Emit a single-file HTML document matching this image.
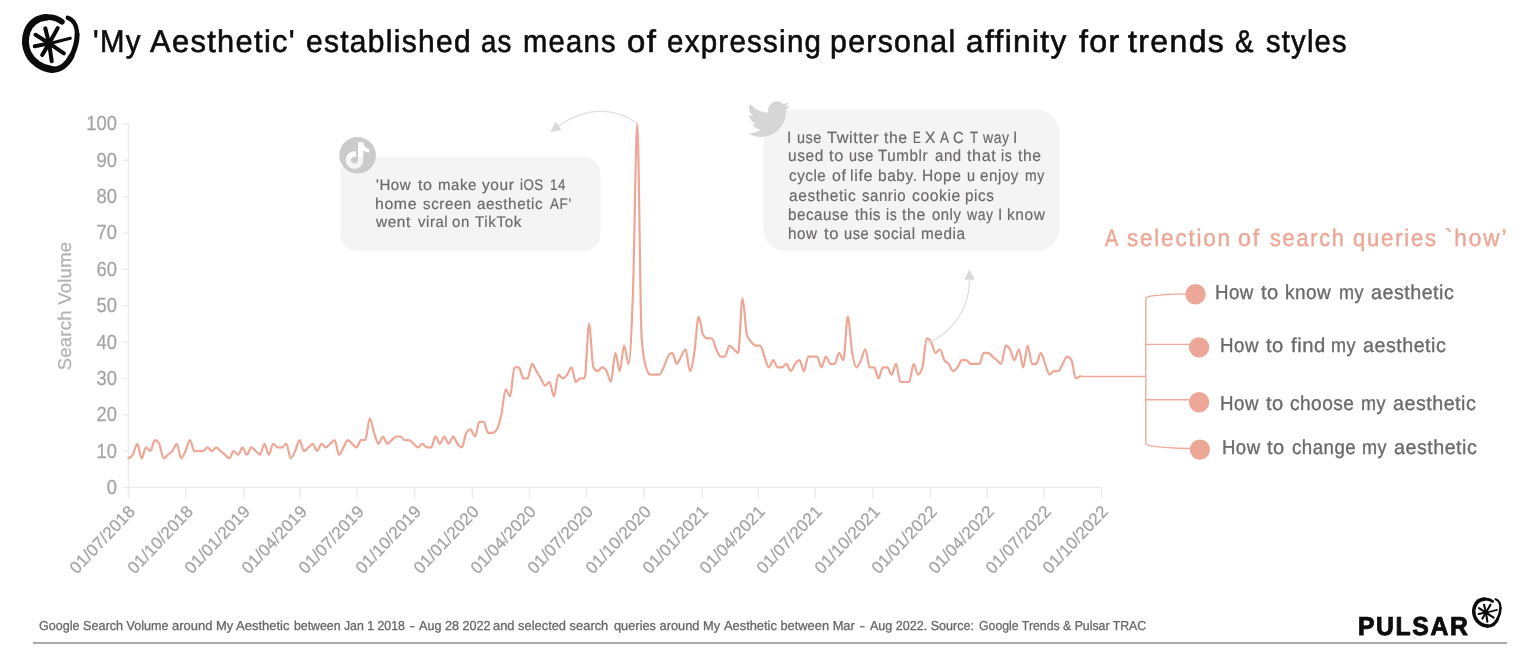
<!DOCTYPE html>
<html lang="en">
<head>
<meta charset="utf-8">
<title>'My Aesthetic' established as means of expressing personal affinity for trends &amp; styles</title>
<style>
  html, body { margin: 0; padding: 0; background: #ffffff; }
  body { width: 1536px; height: 671px; overflow: hidden; position: relative;
         font-family: "Liberation Sans", sans-serif; text-rendering: geometricPrecision; }
  .abs { position: absolute; white-space: nowrap; line-height: 1; transform-origin: 0 50%; }
  .tt { color: #0d0d0d; -webkit-text-stroke: 0.6px #0d0d0d; }
  .ylab { font-size: 20.4px; color: #a4a4a4; -webkit-text-stroke: 0.25px #a4a4a4; text-align: right; width: 60px; left: 56.7px; transform-origin: 100% 50%; transform: scaleX(0.9); }
  #ytitle { transform-origin: 50% 50%; font-size: 18.5px; color: #b2b2b2; -webkit-text-stroke: 0.25px #b2b2b2; left: 64.6px; top: 305.5px; transform: translate(-50%,-50%) rotate(-90deg); letter-spacing: 0.25px; }
  .xlab { font-size: 17px; color: #a4a4a4; -webkit-text-stroke: 0.25px #a4a4a4; transform-origin: 100% 50%; transform: rotate(-46.5deg); text-align: right; width: 100px; letter-spacing: 0.1px; }
  .ln { margin: 0; padding: 0; }
  .ln span { display: block; }
  .bt { color: #6c6969; -webkit-text-stroke: 0.2px #6c6969; }
  .qh { color: #eda797; -webkit-text-stroke: 0.45px #eda797; }
  .q { color: #6c6969; -webkit-text-stroke: 0.35px #6c6969; }
  .ft { color: #696666; -webkit-text-stroke: 0.3px #696666; }
  #rule { position: absolute; left: 33.2px; top: 642.1px; width: 1473.5px; height: 1.8px; background: #ababab; }
  .pl { font-weight: bold; color: #0d0d0d; -webkit-text-stroke: 0.9px #0d0d0d; }
  svg { position: absolute; left: 0; top: 0; }
</style>
</head>
<body>
<svg id="chart" width="1536" height="671" viewBox="0 0 1536 671">
  <!-- bubbles -->
  <rect x="340.5" y="157" width="259.9" height="94" rx="16" ry="16" fill="#f4f4f4"/>
  <rect x="763.5" y="109.5" width="295.6" height="141.6" rx="22" ry="22" fill="#f4f4f4"/>
  <!-- axes -->
  <g stroke="#ebebeb" stroke-width="1.4" fill="none">
    <path d="M128.5,123.9V498.4"/>
    <path d="M122.5,487.4H1101.6"/>
    <path d="M122.5,451.05H128.5M122.5,414.70H128.5M122.5,378.35H128.5M122.5,342.00H128.5M122.5,305.65H128.5M122.5,269.30H128.5M122.5,232.95H128.5M122.5,196.60H128.5M122.5,160.25H128.5M122.5,123.90H128.5"/>
    <path d="M128.50,487.4V498.4M186.14,487.4V498.4M243.79,487.4V498.4M300.18,487.4V498.4M357.20,487.4V498.4M414.84,487.4V498.4M472.49,487.4V498.4M529.51,487.4V498.4M586.52,487.4V498.4M644.17,487.4V498.4M701.81,487.4V498.4M758.20,487.4V498.4M815.22,487.4V498.4M872.87,487.4V498.4M930.51,487.4V498.4M986.90,487.4V498.4M1043.92,487.4V498.4M1101.57,487.4V498.4"/>
  </g>
  <!-- connector -->
  <g stroke="#eda999" stroke-width="1.35" fill="none">
    <path d="M1079.9,376.5H1145.8"/>
    <path d="M1186,293.9 C1172,294.1 1158,295 1150.3,296.2 C1147.6,296.7 1146,297.3 1145.8,298.6 V443.4 C1146,444.7 1147.6,445.3 1150.3,445.8 C1158,447 1172,448.2 1190,448.5"/>
    <path d="M1145.8,344.4H1190M1145.8,399.7H1190"/>
  </g>
  <g fill="#eca798">
    <circle cx="1195.5" cy="294.2" r="10.2"/>
    <circle cx="1199.1" cy="347.4" r="10.2"/>
    <circle cx="1199.1" cy="402.3" r="10.2"/>
    <circle cx="1199.9" cy="449.6" r="10.2"/>
  </g>
  <!-- data line -->
  <path d="M128.50,458.32C129.96,457.71,131.42,457.11,132.89,454.69C134.35,452.26,135.81,443.78,137.27,443.78C138.73,443.78,140.20,458.32,141.66,458.32C143.12,458.32,144.58,447.41,146.04,447.41C147.51,447.41,148.97,451.05,150.43,451.05C151.89,451.05,153.35,440.14,154.82,440.14C156.28,440.14,157.74,441.36,159.20,443.78C160.66,446.20,162.13,458.32,163.59,458.32C165.05,458.32,166.51,455.90,167.97,454.69C169.44,453.47,170.90,452.87,172.36,451.05C173.82,449.23,175.28,443.78,176.75,443.78C178.21,443.78,179.67,458.32,181.13,458.32C182.59,458.32,184.06,454.08,185.52,451.05C186.98,448.02,188.44,440.14,189.90,440.14C191.37,440.14,192.83,451.05,194.29,451.05C195.75,451.05,197.21,451.05,198.68,451.05C200.14,451.05,201.60,451.05,203.06,451.05C204.52,451.05,205.99,447.41,207.45,447.41C208.91,447.41,210.37,451.05,211.83,451.05C213.30,451.05,214.76,447.41,216.22,447.41C217.68,447.41,219.14,449.84,220.61,451.05C222.07,452.26,223.53,453.47,224.99,454.69C226.45,455.90,227.92,458.32,229.38,458.32C230.84,458.32,232.30,451.05,233.76,451.05C235.23,451.05,236.69,454.69,238.15,454.69C239.61,454.69,241.07,447.41,242.54,447.41C244.00,447.41,245.46,454.69,246.92,454.69C248.38,454.69,249.85,447.41,251.31,447.41C252.77,447.41,254.23,449.84,255.69,451.05C257.16,452.26,258.62,454.69,260.08,454.69C261.54,454.69,263.00,443.78,264.47,443.78C265.93,443.78,267.39,454.69,268.85,454.69C270.31,454.69,271.78,443.78,273.24,443.78C274.70,443.78,276.16,447.41,277.62,447.41C279.09,447.41,280.55,447.41,282.01,447.41C283.47,447.41,284.93,443.78,286.40,443.78C287.86,443.78,289.32,458.32,290.78,458.32C292.24,458.32,293.71,454.08,295.17,451.05C296.63,448.02,298.09,440.14,299.55,440.14C301.02,440.14,302.48,451.05,303.94,451.05C305.40,451.05,306.86,448.63,308.33,447.41C309.79,446.20,311.25,443.78,312.71,443.78C314.17,443.78,315.64,451.05,317.10,451.05C318.56,451.05,320.02,443.78,321.48,443.78C322.95,443.78,324.41,447.41,325.87,447.41C327.33,447.41,328.79,444.99,330.26,443.78C331.72,442.57,333.18,440.14,334.64,440.14C336.10,440.14,337.57,454.69,339.03,454.69C340.49,454.69,341.95,449.84,343.41,447.41C344.88,444.99,346.34,440.14,347.80,440.14C349.26,440.14,350.72,442.57,352.19,443.78C353.65,444.99,355.11,447.41,356.57,447.41C358.03,447.41,359.50,440.14,360.96,440.14C362.42,440.14,363.88,440.14,365.34,440.14C366.81,440.14,368.27,418.33,369.73,418.33C371.19,418.33,372.65,428.63,374.12,432.88C375.58,437.12,377.04,443.78,378.50,443.78C379.96,443.78,381.43,436.51,382.89,436.51C384.35,436.51,385.81,443.78,387.27,443.78C388.74,443.78,390.20,441.36,391.66,440.14C393.12,438.93,394.58,436.51,396.05,436.51C397.51,436.51,398.97,436.51,400.43,436.51C401.89,436.51,403.36,440.14,404.82,440.14C406.28,440.14,407.74,440.14,409.20,440.14C410.67,440.14,412.13,442.57,413.59,443.78C415.05,444.99,416.51,447.41,417.98,447.41C419.44,447.41,420.90,443.78,422.36,443.78C423.82,443.78,425.29,447.41,426.75,447.41C428.21,447.41,429.67,447.41,431.13,447.41C432.60,447.41,434.06,436.51,435.52,436.51C436.98,436.51,438.44,443.78,439.91,443.78C441.37,443.78,442.83,436.51,444.29,436.51C445.75,436.51,447.22,443.78,448.68,443.78C450.14,443.78,451.60,436.51,453.06,436.51C454.53,436.51,455.99,441.96,457.45,443.78C458.91,445.60,460.37,447.41,461.84,447.41C463.30,447.41,464.76,435.30,466.22,432.88C467.68,430.45,469.15,429.24,470.61,429.24C472.07,429.24,473.53,436.51,474.99,436.51C476.46,436.51,477.92,421.97,479.38,421.97C480.84,421.97,482.30,421.97,483.77,421.97C485.23,421.97,486.69,432.88,488.15,432.88C489.61,432.88,491.08,432.88,492.54,432.88C494.00,432.88,495.46,431.66,496.92,429.24C498.39,426.82,499.85,421.36,501.31,414.70C502.77,408.04,504.23,389.25,505.70,389.25C507.16,389.25,508.62,396.52,510.08,396.52C511.54,396.52,513.01,367.44,514.47,367.44C515.93,367.44,517.39,367.44,518.85,367.44C520.32,367.44,521.78,378.35,523.24,378.35C524.70,378.35,526.16,378.35,527.63,378.35C529.09,378.35,530.55,363.81,532.01,363.81C533.47,363.81,534.94,368.66,536.40,371.08C537.86,373.50,539.32,375.93,540.78,378.35C542.25,380.77,543.71,385.62,545.17,385.62C546.63,385.62,548.09,381.99,549.56,381.99C551.02,381.99,552.48,396.52,553.94,396.52C555.40,396.52,556.87,374.71,558.33,374.71C559.79,374.71,561.25,378.35,562.71,378.35C564.18,378.35,565.64,376.53,567.10,374.71C568.56,372.90,570.02,367.44,571.49,367.44C572.95,367.44,574.41,381.99,575.87,381.99C577.33,381.99,578.80,378.35,580.26,378.35C581.72,378.35,583.18,378.35,584.64,378.35C586.11,378.35,587.57,323.82,589.03,323.82C590.49,323.82,591.95,365.02,593.42,367.44C594.88,369.87,596.34,371.08,597.80,371.08C599.26,371.08,600.73,367.44,602.19,367.44C603.65,367.44,605.11,368.66,606.57,371.08C608.04,373.50,609.50,381.99,610.96,381.99C612.42,381.99,613.88,352.90,615.35,352.90C616.81,352.90,618.27,371.08,619.73,371.08C621.19,371.08,622.66,345.63,624.12,345.63C625.58,345.63,627.04,363.81,628.50,363.81C629.97,363.81,631.43,334.73,632.89,294.75C634.35,254.76,635.81,123.90,637.28,123.90C638.74,123.90,640.20,318.98,641.66,338.37C643.12,357.75,644.59,362.60,646.05,367.44C647.51,372.29,648.97,374.71,650.43,374.71C651.90,374.71,653.36,374.71,654.82,374.71C656.28,374.71,657.74,374.71,659.21,374.71C660.67,374.71,662.13,370.47,663.59,367.44C665.05,364.42,666.52,358.96,667.98,356.54C669.44,354.12,670.90,352.90,672.36,352.90C673.83,352.90,675.29,363.81,676.75,363.81C678.21,363.81,679.67,358.96,681.14,356.54C682.60,354.12,684.06,349.27,685.52,349.27C686.98,349.27,688.45,371.08,689.91,371.08C691.37,371.08,692.83,361.99,694.29,352.90C695.76,343.82,697.22,316.55,698.68,316.55C700.14,316.55,701.60,332.31,703.07,334.73C704.53,337.15,705.99,338.37,707.45,338.37C708.91,338.37,710.38,338.37,711.84,338.37C713.30,338.37,714.76,346.24,716.22,349.27C717.69,352.30,719.15,356.54,720.61,356.54C722.07,356.54,723.53,356.54,725.00,356.54C726.46,356.54,727.92,345.63,729.38,345.63C730.84,345.63,732.31,348.06,733.77,349.27C735.23,350.48,736.69,352.90,738.15,352.90C739.62,352.90,741.08,298.38,742.54,298.38C744.00,298.38,745.46,329.88,746.93,334.73C748.39,339.58,749.85,340.18,751.31,342.00C752.77,343.82,754.24,345.63,755.70,345.63C757.16,345.63,758.62,345.63,760.08,345.63C761.55,345.63,763.01,352.90,764.47,356.54C765.93,360.17,767.39,367.44,768.86,367.44C770.32,367.44,771.78,360.17,773.24,360.17C774.70,360.17,776.17,367.44,777.63,367.44C779.09,367.44,780.55,367.44,782.01,367.44C783.48,367.44,784.94,363.81,786.40,363.81C787.86,363.81,789.32,371.08,790.79,371.08C792.25,371.08,793.71,365.63,795.17,363.81C796.63,361.99,798.10,360.17,799.56,360.17C801.02,360.17,802.48,371.08,803.94,371.08C805.41,371.08,806.87,356.54,808.33,356.54C809.79,356.54,811.25,356.54,812.72,356.54C814.18,356.54,815.64,356.54,817.10,356.54C818.56,356.54,820.03,367.44,821.49,367.44C822.95,367.44,824.41,356.54,825.87,356.54C827.34,356.54,828.80,363.81,830.26,363.81C831.72,363.81,833.18,363.81,834.65,363.81C836.11,363.81,837.57,352.90,839.03,352.90C840.49,352.90,841.96,360.17,843.42,360.17C844.88,360.17,846.34,316.55,847.80,316.55C849.27,316.55,850.73,344.42,852.19,352.90C853.65,361.39,855.11,367.44,856.58,367.44C858.04,367.44,859.50,363.20,860.96,360.17C862.42,357.15,863.89,349.27,865.35,349.27C866.81,349.27,868.27,367.44,869.73,367.44C871.20,367.44,872.66,367.44,874.12,367.44C875.58,367.44,877.04,378.35,878.51,378.35C879.97,378.35,881.43,367.44,882.89,367.44C884.35,367.44,885.82,367.44,887.28,367.44C888.74,367.44,890.20,374.71,891.66,374.71C893.13,374.71,894.59,363.81,896.05,363.81C897.51,363.81,898.97,381.99,900.44,381.99C901.90,381.99,903.36,381.99,904.82,381.99C906.28,381.99,907.75,381.99,909.21,381.99C910.67,381.99,912.13,363.81,913.59,363.81C915.06,363.81,916.52,374.71,917.98,374.71C919.44,374.71,920.90,372.29,922.37,367.44C923.83,362.60,925.29,338.37,926.75,338.37C928.21,338.37,929.68,339.58,931.14,342.00C932.60,344.42,934.06,352.90,935.52,352.90C936.99,352.90,938.45,349.27,939.91,349.27C941.37,349.27,942.83,357.75,944.30,360.17C945.76,362.60,947.22,361.99,948.68,363.81C950.14,365.63,951.61,371.08,953.07,371.08C954.53,371.08,955.99,369.26,957.45,367.44C958.92,365.63,960.38,360.17,961.84,360.17C963.30,360.17,964.76,360.17,966.23,360.17C967.69,360.17,969.15,363.81,970.61,363.81C972.07,363.81,973.54,363.81,975.00,363.81C976.46,363.81,977.92,363.81,979.38,363.81C980.85,363.81,982.31,352.90,983.77,352.90C985.23,352.90,986.69,352.90,988.16,352.90C989.62,352.90,991.08,355.33,992.54,356.54C994.00,357.75,995.47,358.96,996.93,360.17C998.39,361.39,999.85,363.81,1001.31,363.81C1002.78,363.81,1004.24,345.63,1005.70,345.63C1007.16,345.63,1008.62,346.85,1010.09,349.27C1011.55,351.69,1013.01,360.17,1014.47,360.17C1015.93,360.17,1017.40,349.27,1018.86,349.27C1020.32,349.27,1021.78,367.44,1023.24,367.44C1024.71,367.44,1026.17,345.63,1027.63,345.63C1029.09,345.63,1030.55,363.81,1032.02,363.81C1033.48,363.81,1034.94,363.81,1036.40,363.81C1037.86,363.81,1039.33,352.90,1040.79,352.90C1042.25,352.90,1043.71,360.18,1045.17,363.81C1046.64,367.44,1048.10,374.71,1049.56,374.71C1051.02,374.71,1052.48,371.08,1053.95,371.08C1055.41,371.08,1056.87,371.08,1058.33,371.08C1059.79,371.08,1061.26,366.23,1062.72,363.81C1064.18,361.39,1065.64,356.54,1067.10,356.54C1068.57,356.54,1070.03,357.75,1071.49,360.17C1072.95,362.60,1074.41,378.35,1075.88,378.35C1077.34,378.35,1078.80,377.26,1080.26,376.17" fill="none" stroke="#eca797" stroke-width="2.2" stroke-linejoin="round" stroke-linecap="round"/>
  <!-- arrows -->
  <path d="M636.9,123 C617.2,109.2 589.2,103.9 558.3,126.1" fill="none" stroke="#dedede" stroke-width="1.2"/>
  <path d="M555.4,121.8 L561.5,130.1 L550.4,131.9 Z" fill="#d9d9d9"/>
  <path d="M924.6,344.2 C951,335 969.3,310 969.5,280" fill="none" stroke="#dedede" stroke-width="1.2"/>
  <path d="M969.5,269.2 L964.2,279.8 L974.6,279.8 Z" fill="#d9d9d9"/>
  <!-- tiktok icon -->
  <path transform="translate(-0.5,-0.5)" fill="#cbcbcb" fill-rule="evenodd" d="M339.8,155.8 a18.3,18.3 0 1,0 36.6,0 a18.3,18.3 0 1,0 -36.6,0 Z M358.5,142.7 H363.8 C364.1,146.3 366.5,149 369.7,149.4 V152.9 C367.5,152.9 365.5,152.2 363.8,151 V160.6 A8.8,8.8 0 1 1 356.6,151.95 V157.5 A3.5,3.5 0 1 0 358.5,160.6 Z"/>
  <g transform="translate(747.6,97.8) rotate(-2 20 20) scale(1.79)">
    <path d="M23.953 4.57a10 10 0 01-2.825.775 4.958 4.958 0 002.163-2.723c-.951.555-2.005.959-3.127 1.184a4.92 4.92 0 00-8.384 4.482C7.69 8.095 4.067 6.13 1.64 3.162a4.822 4.822 0 00-.666 2.475c0 1.71.87 3.213 2.188 4.096a4.904 4.904 0 01-2.228-.616v.06a4.923 4.923 0 003.946 4.827 4.996 4.996 0 01-2.212.085 4.936 4.936 0 004.604 3.417 9.867 9.867 0 01-6.102 2.105c-.39 0-.779-.023-1.17-.067a13.995 13.995 0 007.557 2.209c9.053 0 13.998-7.496 13.998-13.985 0-.21 0-.42-.015-.63A9.935 9.935 0 0024 4.59z" fill="#d6d6d6"/>
  </g>
  <g transform="translate(10,5) scale(0.1192)"><g fill="none" stroke="#0b0b0b" stroke-linecap="round" stroke-linejoin="round">
      <path d="M300,104 C230,108 168,152 144,222 C122,282 126,350 153,408 C188,476 262,530 350,541" stroke-width="58"/>
      <path d="M435,140 C395,108 345,100 300,102" stroke-width="48"/>
      <path d="M350,543 C420,546 480,500 515,430" stroke-width="50"/>
      <path d="M515,430 C545,370 564,300 563,245" stroke-width="42"/>
      <path d="M563,245 C561,180 537,126 484,107" stroke-width="36"/>
      <g stroke-width="34">
        <path d="M328,322 L296,196"/>
        <path d="M328,322 L400,194"/>
        <path d="M328,322 L214,250"/>
        <path d="M328,322 L208,346"/>
        <path d="M328,322 L270,420"/>
        <path d="M328,322 L350,472"/>
        <path d="M328,322 L452,406"/>
      </g>
      <path d="M325,325 L506,279" stroke-width="26"/>
      <circle cx="328" cy="322" r="36" fill="#0b0b0b" stroke="none"/>
    </g></g>
  <g transform="translate(1465.8,592.7) scale(0.0616)"><g fill="none" stroke="#0b0b0b" stroke-linecap="round" stroke-linejoin="round">
      <path d="M300,104 C230,108 168,152 144,222 C122,282 126,350 153,408 C188,476 262,530 350,541" stroke-width="58"/>
      <path d="M435,140 C395,108 345,100 300,102" stroke-width="48"/>
      <path d="M350,543 C420,546 480,500 515,430" stroke-width="50"/>
      <path d="M515,430 C545,370 564,300 563,245" stroke-width="42"/>
      <path d="M563,245 C561,180 537,126 484,107" stroke-width="36"/>
      <g stroke-width="34">
        <path d="M328,322 L296,196"/>
        <path d="M328,322 L400,194"/>
        <path d="M328,322 L214,250"/>
        <path d="M328,322 L208,346"/>
        <path d="M328,322 L270,420"/>
        <path d="M328,322 L350,472"/>
        <path d="M328,322 L452,406"/>
      </g>
      <path d="M325,325 L506,279" stroke-width="26"/>
      <circle cx="328" cy="322" r="36" fill="#0b0b0b" stroke="none"/>
    </g></g>
</svg>

<div class="ln">
<span id="w0_0" class="abs tt" style="left:92.94px; top:26.30px; font-size:31.4px; transform:scaleX(0.9370);letter-spacing:1.35px;">'My</span>
<span id="w0_1" class="abs tt" style="left:149.95px; top:26.30px; font-size:31.4px; transform:scaleX(0.9828);letter-spacing:1.35px;">Aesthetic'</span>
<span id="w0_2" class="abs tt" style="left:306.30px; top:26.30px; font-size:31.4px; transform:scaleX(0.9551);letter-spacing:1.35px;">established</span>
<span id="w0_3" class="abs tt" style="left:481.03px; top:26.30px; font-size:31.4px; transform:scaleX(0.8800);letter-spacing:1.35px;">as</span>
<span id="w0_4" class="abs tt" style="left:522.78px; top:26.30px; font-size:31.4px; transform:scaleX(0.9286);letter-spacing:1.35px;">means</span>
<span id="w0_5" class="abs tt" style="left:626.93px; top:26.30px; font-size:31.4px; transform:scaleX(1.0506);letter-spacing:1.35px;">of</span>
<span id="w0_6" class="abs tt" style="left:666.54px; top:26.30px; font-size:31.4px; transform:scaleX(0.9393);letter-spacing:1.35px;">expressing</span>
<span id="w0_7" class="abs tt" style="left:830.38px; top:26.30px; font-size:31.4px; transform:scaleX(0.9638);letter-spacing:1.35px;">personal</span>
<span id="w0_8" class="abs tt" style="left:965.54px; top:26.30px; font-size:31.4px; transform:scaleX(1.0064);letter-spacing:1.35px;">affinity</span>
<span id="w0_9" class="abs tt" style="left:1078.53px; top:26.30px; font-size:31.4px; transform:scaleX(1.0254);letter-spacing:1.35px;">for</span>
<span id="w0_10" class="abs tt" style="left:1128.06px; top:26.30px; font-size:31.4px; transform:scaleX(1.0192);letter-spacing:1.35px;">trends</span>
<span id="w0_11" class="abs tt" style="left:1234.78px; top:26.30px; font-size:31.4px; transform:scaleX(0.8830);letter-spacing:1.35px;">&amp;</span>
<span id="w0_12" class="abs tt" style="left:1265.85px; top:26.30px; font-size:31.4px; transform:scaleX(0.9263);letter-spacing:1.35px;">styles</span>
</div>
<div class="ln">
<span id="w1_0" class="abs bt" style="left:375.72px; top:177.70px; font-size:15.4px; transform:scaleX(0.9734);letter-spacing:0.6px;">'How</span>
<span id="w1_1" class="abs bt" style="left:418.28px; top:177.70px; font-size:15.4px; transform:scaleX(1.0450);letter-spacing:0.6px;">to</span>
<span id="w1_2" class="abs bt" style="left:438.27px; top:177.70px; font-size:15.4px; transform:scaleX(0.9737);letter-spacing:0.6px;">make</span>
<span id="w1_3" class="abs bt" style="left:481.59px; top:177.70px; font-size:15.4px; transform:scaleX(1.0061);letter-spacing:0.6px;">your</span>
<span id="w1_4" class="abs bt" style="left:519.57px; top:177.70px; font-size:15.4px; transform:scaleX(0.8650);letter-spacing:0.6px;">iOS</span>
<span id="w1_5" class="abs bt" style="left:549.80px; top:177.70px; font-size:15.4px; transform:scaleX(0.8650);letter-spacing:0.6px;">14</span>
</div>
<div class="ln">
<span id="w2_0" class="abs bt" style="left:375.02px; top:196.50px; font-size:15.4px; transform:scaleX(1.0302);letter-spacing:0.6px;">home</span>
<span id="w2_1" class="abs bt" style="left:422.96px; top:196.50px; font-size:15.4px; transform:scaleX(0.9813);letter-spacing:0.6px;">screen</span>
<span id="w2_2" class="abs bt" style="left:477.23px; top:196.50px; font-size:15.4px; transform:scaleX(0.9871);letter-spacing:0.6px;">aesthetic</span>
<span id="w2_3" class="abs bt" style="left:550.06px; top:196.50px; font-size:15.4px; transform:scaleX(0.8821);letter-spacing:0.6px;">AF'</span>
</div>
<div class="ln">
<span id="w3_0" class="abs bt" style="left:375.78px; top:215.20px; font-size:15.4px; transform:scaleX(0.9998);letter-spacing:0.6px;">went</span>
<span id="w3_1" class="abs bt" style="left:417.61px; top:215.20px; font-size:15.4px; transform:scaleX(0.9681);letter-spacing:0.6px;">viral</span>
<span id="w3_2" class="abs bt" style="left:452.11px; top:215.20px; font-size:15.4px; transform:scaleX(0.9719);letter-spacing:0.6px;">on</span>
<span id="w3_3" class="abs bt" style="left:475.39px; top:215.20px; font-size:15.4px; transform:scaleX(0.9874);letter-spacing:0.6px;">TikTok</span>
</div>
<div class="ln">
<span id="w4_0" class="abs bt" style="left:787.29px; top:129.50px; font-size:16.2px; transform:scaleX(0.9550);letter-spacing:0.6px;">I</span>
<span id="w4_1" class="abs bt" style="left:797.06px; top:129.50px; font-size:16.2px; transform:scaleX(0.8894);letter-spacing:0.6px;">use</span>
<span id="w4_2" class="abs bt" style="left:826.73px; top:129.50px; font-size:16.2px; transform:scaleX(1.0083);letter-spacing:0.6px;">Twitter</span>
<span id="w4_3" class="abs bt" style="left:884.39px; top:129.50px; font-size:16.2px; transform:scaleX(0.9753);letter-spacing:0.6px;">the</span>
<span id="w4_4" class="abs bt" style="left:913.24px; top:129.50px; font-size:16.2px; transform:scaleX(0.7150);letter-spacing:0.6px;">E</span>
<span id="w4_5" class="abs bt" style="left:925.46px; top:129.50px; font-size:16.2px; transform:scaleX(0.9566);letter-spacing:0.6px;">X</span>
<span id="w4_6" class="abs bt" style="left:939.92px; top:129.50px; font-size:16.2px; transform:scaleX(0.8389);letter-spacing:0.6px;">A</span>
<span id="w4_7" class="abs bt" style="left:953.34px; top:129.50px; font-size:16.2px; transform:scaleX(0.9117);letter-spacing:0.6px;">C</span>
<span id="w4_8" class="abs bt" style="left:970.13px; top:129.50px; font-size:16.2px; transform:scaleX(0.8154);letter-spacing:0.6px;">T</span>
<span id="w4_9" class="abs bt" style="left:983.06px; top:129.50px; font-size:16.2px; transform:scaleX(0.8650);letter-spacing:0.6px;">way</span>
<span id="w4_10" class="abs bt" style="left:1013.49px; top:129.50px; font-size:16.2px; transform:scaleX(0.9550);letter-spacing:0.6px;">I</span>
</div>
<div class="ln">
<span id="w5_0" class="abs bt" style="left:788.41px; top:148.40px; font-size:16.2px; transform:scaleX(0.9565);letter-spacing:0.6px;">used</span>
<span id="w5_1" class="abs bt" style="left:828.78px; top:148.40px; font-size:16.2px; transform:scaleX(1.0188);letter-spacing:0.6px;">to</span>
<span id="w5_2" class="abs bt" style="left:848.66px; top:148.40px; font-size:16.2px; transform:scaleX(0.8894);letter-spacing:0.6px;">use</span>
<span id="w5_3" class="abs bt" style="left:878.39px; top:148.40px; font-size:16.2px; transform:scaleX(0.9376);letter-spacing:0.6px;">Tumblr</span>
<span id="w5_4" class="abs bt" style="left:935.26px; top:148.40px; font-size:16.2px; transform:scaleX(0.9251);letter-spacing:0.6px;">and</span>
<span id="w5_5" class="abs bt" style="left:966.96px; top:148.40px; font-size:16.2px; transform:scaleX(0.9993);letter-spacing:0.6px;">that</span>
<span id="w5_6" class="abs bt" style="left:1001.36px; top:148.40px; font-size:16.2px; transform:scaleX(0.8650);letter-spacing:0.6px;">is</span>
<span id="w5_7" class="abs bt" style="left:1017.58px; top:148.40px; font-size:16.2px; transform:scaleX(0.9700);letter-spacing:0.6px;">the</span>
</div>
<div class="ln">
<span id="w6_0" class="abs bt" style="left:788.84px; top:167.60px; font-size:16.2px; transform:scaleX(0.9361);letter-spacing:0.6px;">cycle</span>
<span id="w6_1" class="abs bt" style="left:831.60px; top:167.60px; font-size:16.2px; transform:scaleX(0.9829);letter-spacing:0.6px;">of</span>
<span id="w6_2" class="abs bt" style="left:850.17px; top:167.60px; font-size:16.2px; transform:scaleX(1.0004);letter-spacing:0.6px;">life</span>
<span id="w6_3" class="abs bt" style="left:878.24px; top:167.60px; font-size:16.2px; transform:scaleX(0.9539);letter-spacing:0.6px;">baby.</span>
<span id="w6_4" class="abs bt" style="left:921.80px; top:167.60px; font-size:16.2px; transform:scaleX(0.9589);letter-spacing:0.6px;">Hope</span>
<span id="w6_5" class="abs bt" style="left:966.60px; top:167.60px; font-size:16.2px; transform:scaleX(0.8941);letter-spacing:0.6px;">u</span>
<span id="w6_6" class="abs bt" style="left:980.43px; top:167.60px; font-size:16.2px; transform:scaleX(0.9354);letter-spacing:0.6px;">enjoy</span>
<span id="w6_7" class="abs bt" style="left:1025.37px; top:167.60px; font-size:16.2px; transform:scaleX(0.8650);letter-spacing:0.6px;">my</span>
</div>
<div class="ln">
<span id="w7_0" class="abs bt" style="left:788.81px; top:187.60px; font-size:16.2px; transform:scaleX(0.9574);letter-spacing:0.6px;">aesthetic</span>
<span id="w7_1" class="abs bt" style="left:861.66px; top:187.60px; font-size:16.2px; transform:scaleX(0.9269);letter-spacing:0.6px;">sanrio</span>
<span id="w7_2" class="abs bt" style="left:911.78px; top:187.60px; font-size:16.2px; transform:scaleX(0.9696);letter-spacing:0.6px;">cookie</span>
<span id="w7_3" class="abs bt" style="left:965.24px; top:187.60px; font-size:16.2px; transform:scaleX(0.9447);letter-spacing:0.6px;">pics</span>
</div>
<div class="ln">
<span id="w8_0" class="abs bt" style="left:788.34px; top:206.60px; font-size:16.2px; transform:scaleX(0.9341);letter-spacing:0.6px;">because</span>
<span id="w8_1" class="abs bt" style="left:855.21px; top:206.60px; font-size:16.2px; transform:scaleX(0.9455);letter-spacing:0.6px;">this</span>
<span id="w8_2" class="abs bt" style="left:885.53px; top:206.60px; font-size:16.2px; transform:scaleX(0.8650);letter-spacing:0.6px;">is</span>
<span id="w8_3" class="abs bt" style="left:902.19px; top:206.60px; font-size:16.2px; transform:scaleX(0.9790);letter-spacing:0.6px;">the</span>
<span id="w8_4" class="abs bt" style="left:931.52px; top:206.60px; font-size:16.2px; transform:scaleX(0.9166);letter-spacing:0.6px;">only</span>
<span id="w8_5" class="abs bt" style="left:966.56px; top:206.60px; font-size:16.2px; transform:scaleX(0.8650);letter-spacing:0.6px;">way</span>
<span id="w8_6" class="abs bt" style="left:997.59px; top:206.60px; font-size:16.2px; transform:scaleX(0.9550);letter-spacing:0.6px;">I</span>
<span id="w8_7" class="abs bt" style="left:1007.30px; top:206.60px; font-size:16.2px; transform:scaleX(0.9548);letter-spacing:0.6px;">know</span>
</div>
<div class="ln">
<span id="w9_0" class="abs bt" style="left:788.00px; top:225.60px; font-size:16.2px; transform:scaleX(0.9361);letter-spacing:0.6px;">how</span>
<span id="w9_1" class="abs bt" style="left:823.77px; top:225.60px; font-size:16.2px; transform:scaleX(1.0264);letter-spacing:0.6px;">to</span>
<span id="w9_2" class="abs bt" style="left:843.93px; top:225.60px; font-size:16.2px; transform:scaleX(0.9038);letter-spacing:0.6px;">use</span>
<span id="w9_3" class="abs bt" style="left:874.27px; top:225.60px; font-size:16.2px; transform:scaleX(0.9254);letter-spacing:0.6px;">social</span>
<span id="w9_4" class="abs bt" style="left:920.80px; top:225.60px; font-size:16.2px; transform:scaleX(0.9481);letter-spacing:0.6px;">media</span>
</div>
<div class="ln">
<span id="w10_0" class="abs qh" style="left:1104.90px; top:226.90px; font-size:24px; transform:scaleX(0.8278);letter-spacing:1.95px;">A</span>
<span id="w10_1" class="abs qh" style="left:1126.91px; top:226.90px; font-size:24px; transform:scaleX(0.9341);letter-spacing:1.95px;">selection</span>
<span id="w10_2" class="abs qh" style="left:1238.39px; top:226.90px; font-size:24px; transform:scaleX(0.9719);letter-spacing:1.95px;">of</span>
<span id="w10_3" class="abs qh" style="left:1269.77px; top:226.90px; font-size:24px; transform:scaleX(0.9035);letter-spacing:1.95px;">search</span>
<span id="w10_4" class="abs qh" style="left:1352.88px; top:226.90px; font-size:24px; transform:scaleX(0.9183);letter-spacing:1.95px;">queries</span>
<span id="w10_5" class="abs qh" style="left:1444.58px; top:226.90px; font-size:24px; transform:scaleX(0.9428);letter-spacing:1.95px;">`how’</span>
</div>
<div class="ln">
<span id="w11_0" class="abs q" style="left:1215.43px; top:282.90px; font-size:20px; transform:scaleX(0.9358);letter-spacing:0.5px;">How</span>
<span id="w11_1" class="abs q" style="left:1260.93px; top:282.90px; font-size:20px; transform:scaleX(1.0061);letter-spacing:0.5px;">to</span>
<span id="w11_2" class="abs q" style="left:1285.09px; top:282.90px; font-size:20px; transform:scaleX(0.9510);letter-spacing:0.5px;">know</span>
<span id="w11_3" class="abs q" style="left:1338.56px; top:282.90px; font-size:20px; transform:scaleX(0.9024);letter-spacing:0.5px;">my</span>
<span id="w11_4" class="abs q" style="left:1370.80px; top:282.90px; font-size:20px; transform:scaleX(0.9845);letter-spacing:0.5px;">aesthetic</span>
</div>
<div class="ln">
<span id="w12_0" class="abs q" style="left:1219.84px; top:336.10px; font-size:20px; transform:scaleX(0.9364);letter-spacing:0.5px;">How</span>
<span id="w12_1" class="abs q" style="left:1265.73px; top:336.10px; font-size:20px; transform:scaleX(1.0061);letter-spacing:0.5px;">to</span>
<span id="w12_2" class="abs q" style="left:1290.55px; top:336.10px; font-size:20px; transform:scaleX(1.0117);letter-spacing:0.5px;">find</span>
<span id="w12_3" class="abs q" style="left:1331.16px; top:336.10px; font-size:20px; transform:scaleX(0.9024);letter-spacing:0.5px;">my</span>
<span id="w12_4" class="abs q" style="left:1363.20px; top:336.10px; font-size:20px; transform:scaleX(0.9845);letter-spacing:0.5px;">aesthetic</span>
</div>
<div class="ln">
<span id="w13_0" class="abs q" style="left:1219.84px; top:394.20px; font-size:20px; transform:scaleX(0.9364);letter-spacing:0.5px;">How</span>
<span id="w13_1" class="abs q" style="left:1265.73px; top:394.20px; font-size:20px; transform:scaleX(1.0061);letter-spacing:0.5px;">to</span>
<span id="w13_2" class="abs q" style="left:1289.99px; top:394.20px; font-size:20px; transform:scaleX(0.9546);letter-spacing:0.5px;">choose</span>
<span id="w13_3" class="abs q" style="left:1360.76px; top:394.20px; font-size:20px; transform:scaleX(0.9024);letter-spacing:0.5px;">my</span>
<span id="w13_4" class="abs q" style="left:1392.80px; top:394.20px; font-size:20px; transform:scaleX(0.9845);letter-spacing:0.5px;">aesthetic</span>
</div>
<div class="ln">
<span id="w14_0" class="abs q" style="left:1221.85px; top:438.40px; font-size:20px; transform:scaleX(0.9281);letter-spacing:0.5px;">How</span>
<span id="w14_1" class="abs q" style="left:1266.93px; top:438.40px; font-size:20px; transform:scaleX(1.0061);letter-spacing:0.5px;">to</span>
<span id="w14_2" class="abs q" style="left:1291.85px; top:438.40px; font-size:20px; transform:scaleX(0.9350);letter-spacing:0.5px;">change</span>
<span id="w14_3" class="abs q" style="left:1362.36px; top:438.40px; font-size:20px; transform:scaleX(0.9024);letter-spacing:0.5px;">my</span>
<span id="w14_4" class="abs q" style="left:1394.40px; top:438.40px; font-size:20px; transform:scaleX(0.9845);letter-spacing:0.5px;">aesthetic</span>
</div>
<div class="ln">
<span id="w15_0" class="abs ft" style="left:38.99px; top:618.90px; font-size:13px; transform:scaleX(0.9680);">Google Search Volume</span>
<span id="w15_1" class="abs ft" style="left:171.91px; top:618.90px; font-size:13px; transform:scaleX(0.9968);">around My Aesthetic</span>
<span id="w15_2" class="abs ft" style="left:294.17px; top:618.90px; font-size:13px; transform:scaleX(0.9466);">between Jan 1 2018</span>
<span id="w15_3" class="abs ft" style="left:410.47px; top:618.90px; font-size:13px; transform:scaleX(0.6200);">–</span>
<span id="w15_4" class="abs ft" style="left:418.51px; top:618.90px; font-size:13px; transform:scaleX(0.9683);">Aug 28 2022</span>
<span id="w15_5" class="abs ft" style="left:493.33px; top:618.90px; font-size:13px; transform:scaleX(0.9907);">and selected search</span>
<span id="w15_6" class="abs ft" style="left:613.71px; top:618.90px; font-size:13px; transform:scaleX(0.9849);">queries around My</span>
<span id="w15_7" class="abs ft" style="left:723.89px; top:618.90px; font-size:13px; transform:scaleX(0.9889);">Aesthetic between Mar</span>
<span id="w15_8" class="abs ft" style="left:859.67px; top:618.90px; font-size:13px; transform:scaleX(0.6200);">–</span>
<span id="w15_9" class="abs ft" style="left:870.10px; top:618.90px; font-size:13px; transform:scaleX(0.9647);">Aug 2022. Source:</span>
<span id="w15_10" class="abs ft" style="left:978.81px; top:618.90px; font-size:13px; transform:scaleX(0.9455);">Google Trends &amp; Pulsar TRAC</span>
</div>
<div class="ln">
<span id="w16_0" class="abs pl" style="left:1358.17px; top:612.50px; font-size:26px; transform:scaleX(0.9517);letter-spacing:1.7px;">PULSAR</span>
</div>
<div class="abs ylab" style="top:477.9px;">0</div>
<div class="abs ylab" style="top:441.5px;">10</div>
<div class="abs ylab" style="top:405.2px;">20</div>
<div class="abs ylab" style="top:368.8px;">30</div>
<div class="abs ylab" style="top:332.5px;">40</div>
<div class="abs ylab" style="top:296.1px;">50</div>
<div class="abs ylab" style="top:259.8px;">60</div>
<div class="abs ylab" style="top:223.4px;">70</div>
<div class="abs ylab" style="top:187.1px;">80</div>
<div class="abs ylab" style="top:150.8px;">90</div>
<div class="abs ylab" style="top:114.4px;">100</div>

<div id="ytitle" class="abs">Search Volume</div>
<div class="abs xlab" style="left:32.1px; top:499.6px;">01/07/2018</div>
<div class="abs xlab" style="left:89.7px; top:499.6px;">01/10/2018</div>
<div class="abs xlab" style="left:147.4px; top:499.6px;">01/01/2019</div>
<div class="abs xlab" style="left:203.8px; top:499.6px;">01/04/2019</div>
<div class="abs xlab" style="left:260.8px; top:499.6px;">01/07/2019</div>
<div class="abs xlab" style="left:318.4px; top:499.6px;">01/10/2019</div>
<div class="abs xlab" style="left:376.1px; top:499.6px;">01/01/2020</div>
<div class="abs xlab" style="left:433.1px; top:499.6px;">01/04/2020</div>
<div class="abs xlab" style="left:490.1px; top:499.6px;">01/07/2020</div>
<div class="abs xlab" style="left:547.8px; top:499.6px;">01/10/2020</div>
<div class="abs xlab" style="left:605.4px; top:499.6px;">01/01/2021</div>
<div class="abs xlab" style="left:661.8px; top:499.6px;">01/04/2021</div>
<div class="abs xlab" style="left:718.8px; top:499.6px;">01/07/2021</div>
<div class="abs xlab" style="left:776.5px; top:499.6px;">01/10/2021</div>
<div class="abs xlab" style="left:834.1px; top:499.6px;">01/01/2022</div>
<div class="abs xlab" style="left:890.5px; top:499.6px;">01/04/2022</div>
<div class="abs xlab" style="left:947.5px; top:499.6px;">01/07/2022</div>
<div class="abs xlab" style="left:1005.2px; top:499.6px;">01/10/2022</div>

<div id="rule"></div>
</body>
</html>
